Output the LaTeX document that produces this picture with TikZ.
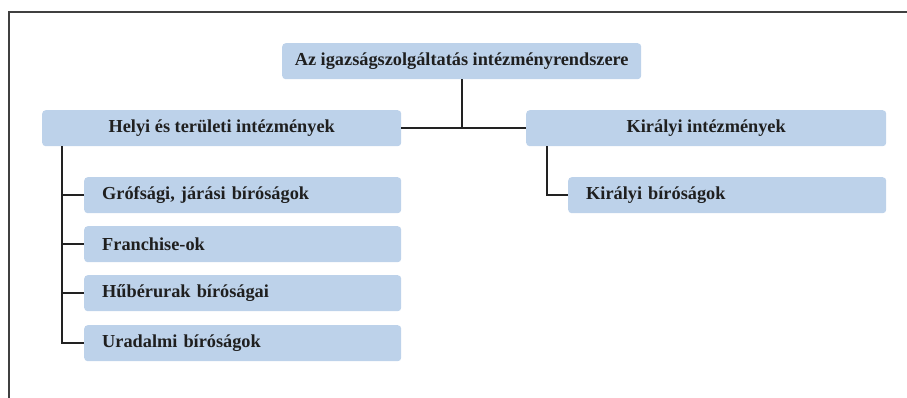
\documentclass[tikz,border=0pt]{standalone}
\usepackage{fontspec}
\setmainfont{Liberation Serif}
\definecolor{boxblue}{RGB}{189,210,234}
\definecolor{linegray}{RGB}{34,34,34}
\begin{document}
\begin{tikzpicture}[x=1pt,y=-1pt,
  box/.style={rectangle, rounded corners=3.5pt, fill=boxblue, draw=none,
    minimum height=36pt, inner ysep=0pt, font=\fontsize{18.3}{20}\selectfont\bfseries,
    text=black!88},
  cbox/.style={box, align=center, inner xsep=0pt},
  lbox/.style={box, align=left, inner xsep=18pt},
  conn/.style={draw=linegray, line width=1.8pt},
  frame/.style={draw=black!75, line width=1.3pt}
]
\useasboundingbox (0,0) rectangle (907,398);
\draw[frame] (9,398) |- (907,12);

\node[cbox, minimum width=359pt, anchor=north west] (root) at (282,43) {Az igazságszolgáltatás intézményrendszere};
\node[cbox, minimum width=359pt, anchor=north west] (helyi) at (42,110) {Helyi és területi intézmények};
\node[cbox, minimum width=360pt, anchor=north west] (kir) at (526,110) {Királyi intézmények};

\node[lbox, text width=281pt, anchor=north west] (g1) at (84,177) {Grófsági, járási bíróságok};
\node[lbox, text width=281pt, anchor=north west] (g2) at (84,226) {Franchise-ok};
\node[lbox, text width=281pt, anchor=north west] (g3) at (84,275) {Hűbérurak bíróságai};
\node[lbox, text width=281pt, anchor=north west] (g4) at (84,325) {Uradalmi bíróságok};

\node[lbox, text width=282pt, anchor=north west] (k1) at (568,177) {Királyi bíróságok};

\coordinate (j) at (root.south |- helyi.east);
\draw[conn] (helyi.east) -- (kir.west);
\draw[conn] (root.south) -- (j);

\coordinate (ht) at ([xshift=20pt]helyi.south west);
\draw[conn] (ht) |- (g4.west);
\draw[conn] (ht |- g1.west) -- (g1.west);
\draw[conn] (ht |- g2.west) -- (g2.west);
\draw[conn] (ht |- g3.west) -- (g3.west);

\coordinate (kt) at ([xshift=21pt]kir.south west);
\draw[conn] (kt) |- (k1.west);
\end{tikzpicture}
\end{document}
